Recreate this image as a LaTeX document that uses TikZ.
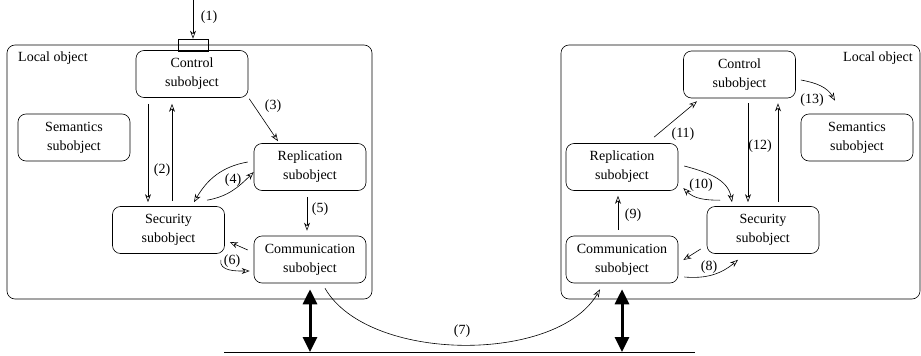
\documentclass[tikz,border=0pt]{standalone}
\usepackage{fontspec}
\setmainfont{Liberation Serif}
\usetikzlibrary{arrows.meta}
\tikzset{
  subobj/.style={draw, rounded corners=8pt, minimum width=112pt, minimum height=47pt, align=center, inner sep=0pt},
  objbox/.style={draw, rounded corners=8pt, inner sep=0pt},
  arr/.style={-{Stealth[open, length=8pt, width=6pt, inset=2.5pt]}},
  bigarr/.style={line width=3pt, {Triangle[length=15pt, width=14pt]}-{Triangle[length=15pt, width=14pt]}},
}
\begin{document}
\begin{tikzpicture}[x=1pt, y=-1pt, line width=0.6pt, font=\fontsize{14}{19}\selectfont]
				  \useasboundingbox (0,0) rectangle (921,356);
				  \node[objbox, minimum width=365pt, minimum height=254pt] (objL) at (189.5,172) {};
				  \node[objbox, minimum width=359pt, minimum height=254pt] (objR) at (740.5,172) {};
				  \node at (53,58) {Local object};
				  \node at (878,58) {Local object};
				  \node[subobj] (ctlL) at (192,74) {Control\\subobject};
				  \node[subobj] (semL) at (74,137.5) {Semantics\\subobject};
				  \node[subobj] (repL) at (310,167) {Replication\\subobject};
				  \node[subobj] (secL) at (168.5,230) {Security\\subobject};
				  \node[subobj] (comL) at (310,259.5) {Communication\\subobject};
				  \node[subobj] (ctlR) at (739.5,74.5) {Control\\subobject};
				  \node[subobj] (semR) at (857,137.5) {Semantics\\subobject};
				  \node[subobj] (repR) at (622,167) {Replication\\subobject};
				  \node[subobj] (secR) at (763,230) {Security\\subobject};
				  \node[subobj] (comR) at (622,259.5) {Communication\\subobject};
				  \node[draw, minimum width=30pt, minimum height=12pt, inner sep=0pt] (portL) at (193,45) {};
				  \coordinate (in1) at (193,0);
				  \coordinate (netA) at (224,352);
				  \coordinate (netB) at (695,352);
				  \draw[arr] (in1) -- (portL.north);
				  \draw[arr] ([xshift=-44pt, yshift=-6pt]ctlL.south) -- ([xshift=-20.5pt, yshift=4pt]secL.north);
				  \draw[arr] ([xshift=3.5pt, yshift=5pt]secL.north) -- ([xshift=-20pt, yshift=-6pt]ctlL.south);
				  \draw[arr] ([xshift=1pt, yshift=-1pt]ctlL.south east) -- ([xshift=-32pt, yshift=2pt]repL.north);
				  \draw[arr] ([xshift=-6pt, yshift=5pt]repL.west) to[out=190, in=60] ([xshift=25.5pt, yshift=4pt]secL.north);
				  \draw[arr] ([xshift=38.5pt, yshift=6pt]secL.north) to[out=10, in=225] ([yshift=-5pt]repL.west);
				  \draw[arr] ([xshift=-3pt, yshift=-6pt]repL.south) -- ([xshift=-3pt, yshift=5pt]comL.north);
				  \draw[arr] ([xshift=-6pt, yshift=9.5pt]comL.west) -- ([xshift=5pt, yshift=-12pt]secL.east);
				  \draw[arr] ([xshift=-4pt, yshift=-6pt]secL.south east) to[out=-100, in=180] ([xshift=-4pt, yshift=-11.5pt]comL.west);
				  \draw[arr, looseness=0.8] ([xshift=15pt, yshift=-5pt]comL.south) to[out=-60, in=-120] ([xshift=-22pt, yshift=-6pt]comR.south);
				  \draw[arr] ([xshift=-6pt, yshift=-19pt]secR.west) -- ([xshift=5pt, yshift=-0.5pt]comR.east);
				  \draw[arr] ([xshift=6pt, yshift=-17.5pt]comR.east) to[out=-5, in=220] ([xshift=-25pt, yshift=-6pt]secR.south);
				  \draw[arr] ([xshift=-4pt, yshift=6pt]comR.north) -- ([xshift=-4pt, yshift=-5pt]repR.south);
				  \draw[arr] ([xshift=6pt, yshift=1pt]repR.east) to[out=-15, in=100] ([xshift=-31pt, yshift=4pt]secR.north);
				  \draw[arr] ([xshift=-43pt, yshift=6pt]secR.north) to[out=180, in=-45] ([xshift=5pt, yshift=-21pt]repR.east);
				  \draw[arr] ([xshift=32pt, yshift=6pt]repR.north) -- ([xshift=-42.5pt, yshift=-3pt]ctlR.south);
				  \draw[arr] ([xshift=8.5pt, yshift=-5pt]ctlR.south) -- ([xshift=-15pt, yshift=4pt]secR.north);
				  \draw[arr] ([xshift=15pt, yshift=4pt]secR.north) -- ([xshift=38.5pt, yshift=-5pt]ctlR.south);
				  \draw[arr] ([xshift=5pt, yshift=-5.5pt]ctlR.east) to[out=-10, in=120] ([xshift=-22pt, yshift=13pt]semR.north);
				  \draw (netA) -- (netB);
				  \draw[bigarr] ([yshift=-6pt]comL.south) -- (comL.south |- netA);
				  \draw[bigarr] ([yshift=-6pt]comR.south) -- (comR.south |- netA);
				  \node at (209,17) {(1)};
				  \node at (162,170) {(2)};
				  \node at (273,106) {(3)};
				  \node at (233,180) {(4)};
				  \node at (320,209) {(5)};
				  \node at (232,261) {(6)};
				  \node at (462,331) {(7)};
				  \node at (709,267) {(8)};
				  \node at (633,215) {(9)};
				  \node at (701,185) {(10)};
				  \node at (683,134) {(11)};
				  \node at (760,146) {(12)};
				  \node at (812,100) {(13)};
				\end{tikzpicture}
\end{document}
